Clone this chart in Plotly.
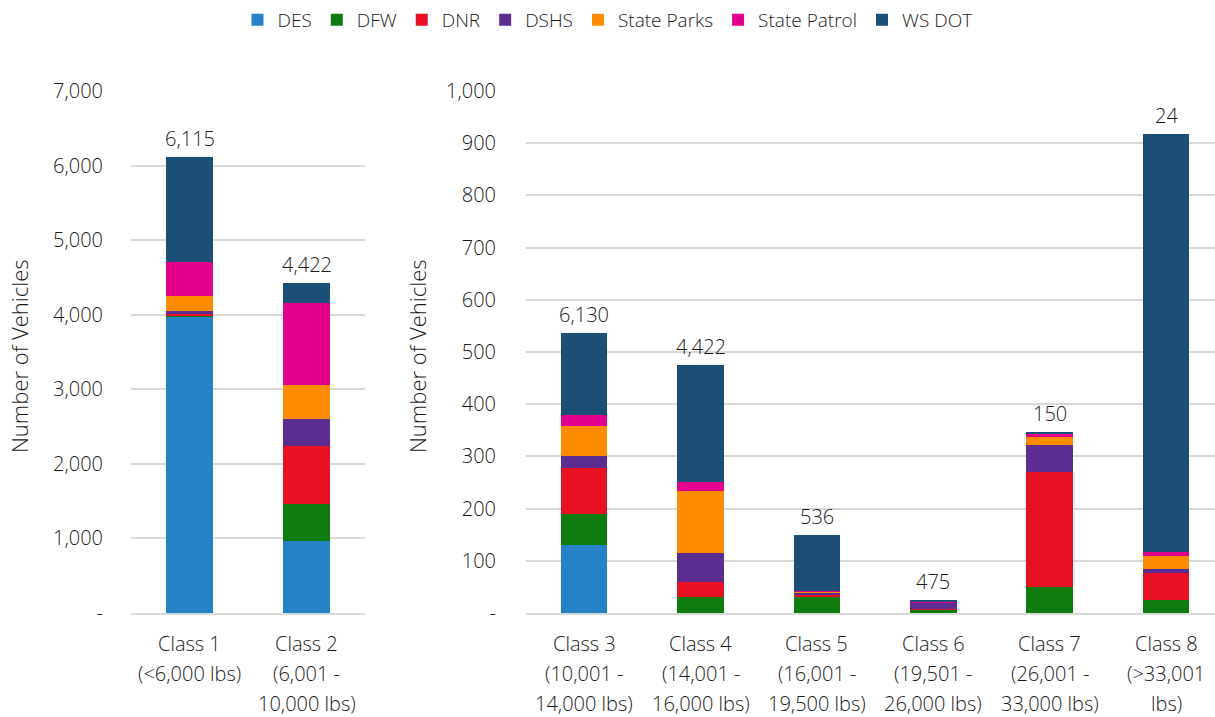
import plotly.graph_objects as go

# ---------------- data ----------------
agencies = ["DES", "DFW", "DNR", "DSHS", "State Parks", "State Patrol", "WS DOT"]
colors = ["#2783C7", "#107C10", "#E81123", "#5C2D91", "#FF8C00", "#E3008C", "#1B4F75"]

left_classes = ["Class 1", "Class 2"]
left_ticklabels = ["Class 1<br>(<6,000 lbs)", "Class 2<br>(6,001 -<br>10,000 lbs)"]
left_values = {
    "DES":          [3970, 965],
    "DFW":          [17, 492],
    "DNR":          [27, 782],
    "DSHS":         [40, 367],
    "State Parks":  [200, 451],
    "State Patrol": [450, 1096],
    "WS DOT":       [1411, 269],
}
left_labels = ["6,115", "4,422"]

right_classes = ["Class 3", "Class 4", "Class 5", "Class 6", "Class 7", "Class 8"]
right_ticklabels = [
    "Class 3<br>(10,001 -<br>14,000 lbs)",
    "Class 4<br>(14,001 -<br>16,000 lbs)",
    "Class 5<br>(16,001 -<br>19,500 lbs)",
    "Class 6<br>(19,501 -<br>26,000 lbs)",
    "Class 7<br>(26,001 -<br>33,000 lbs)",
    "Class 8<br>(>33,001<br>lbs)",
]
right_values = {
    "DES":          [131, 0, 0, 0, 0, 0],
    "DFW":          [58, 30, 32, 7, 49, 24],
    "DNR":          [89, 29, 2, 1, 222, 52],
    "DSHS":         [22, 55, 4, 12, 51, 8],
    "State Parks":  [59, 119, 4, 1, 17, 26],
    "State Patrol": [21, 18, 1, 1, 3, 6],
    "WS DOT":       [156, 224, 107, 2, 4, 802],
}
right_labels = ["6,130", "4,422", "536", "475", "150", "24"]

left_ticks = [0, 1000, 2000, 3000, 4000, 5000, 6000, 7000]
left_tick_text = ["-", "1,000", "2,000", "3,000", "4,000", "5,000", "6,000", "7,000"]
right_ticks = [0, 100, 200, 300, 400, 500, 600, 700, 800, 900, 1000]
right_tick_text = ["-", "100", "200", "300", "400", "500", "600", "700", "800", "900", "1,000"]

# ---------------- figure ----------------
FONT = "Open Sans"
TXT = "#1a1a1a"
W, H = 1215, 717
PLOT_TOP, PLOT_BOT = 91, 613


def fnt(size):
    return dict(family=FONT, size=size, color=TXT, weight=300)


fig = go.Figure()
for name, col in zip(agencies, colors):
    fig.add_trace(go.Bar(x=left_classes, y=left_values[name], name=name,
                         marker=dict(color=col, line=dict(width=0)),
                         xaxis="x", yaxis="y", legendgroup=name, showlegend=True))
    fig.add_trace(go.Bar(x=right_classes, y=right_values[name], name=name,
                         marker=dict(color=col, line=dict(width=0)),
                         xaxis="x2", yaxis="y2", legendgroup=name, showlegend=False))

annotations = []
# totals above bars
for i, c in enumerate(left_classes):
    tot = sum(left_values[a][i] for a in agencies)
    annotations.append(dict(x=c, y=tot, xref="x", yref="y", text=left_labels[i],
                            showarrow=False, yanchor="bottom", yshift=3, font=fnt(20)))
for i, c in enumerate(right_classes):
    tot = sum(right_values[a][i] for a in agencies)
    annotations.append(dict(x=c, y=tot, xref="x2", yref="y2", text=right_labels[i],
                            showarrow=False, yanchor="bottom", yshift=3, font=fnt(20)))


# category labels (multi-line, Excel-like spacing)
def add_cat_labels(cats, labels, xref):
    for c, lab in zip(cats, labels):
        for j, line in enumerate(lab.split("<br>")):
            ypx = PLOT_BOT + 30 + 30 * j
            annotations.append(dict(x=c, xref=xref, y=(H - ypx) / H, yref="paper",
                                    text=line, showarrow=False, yanchor="middle",
                                    font=fnt(20)))


add_cat_labels(left_classes, left_ticklabels, "x")
add_cat_labels(right_classes, right_ticklabels, "x2")

# axis titles
for xpx in (19, 417):
    annotations.append(dict(x=xpx / W, y=1 - 357 / H,
                            xref="paper", yref="paper",
                            text="Number of Vehicles", textangle=-90, showarrow=False,
                            xanchor="center", yanchor="middle", font=fnt(22)))

gridc = "#D9D9D9"
yd = [(H - PLOT_BOT) / H, (H - PLOT_TOP) / H]

fig.update_layout(
    width=W, height=H,
    margin=dict(l=0, r=0, t=0, b=0),
    paper_bgcolor="white", plot_bgcolor="white",
    barmode="stack", bargap=0.6,
    font=fnt(20),
    legend=dict(orientation="h", x=0.5, xanchor="center", y=1 - 1 / H, yanchor="top",
                font=fnt(19), traceorder="normal", itemwidth=30),
    xaxis=dict(domain=[131 / W, 365 / W], showticklabels=False, showgrid=False,
               showline=True, linecolor=gridc, linewidth=1.5, ticks="",
               range=[-0.5, 1.5]),
    yaxis=dict(domain=yd, range=[0, 7000], tickvals=left_ticks, ticktext=left_tick_text,
               showgrid=True, gridcolor=gridc, gridwidth=1.5, zeroline=False,
               showline=False, ticks="", ticklabelstandoff=27, automargin=False,
               tickfont=fnt(20)),
    xaxis2=dict(domain=[526 / W, 1.0], anchor="y2", showticklabels=False, showgrid=False,
                showline=True, linecolor=gridc, linewidth=1.5, ticks="",
                range=[-0.5, 5.42]),
    yaxis2=dict(domain=yd, anchor="x2", range=[0, 1000], tickvals=right_ticks,
                ticktext=right_tick_text, showgrid=True, gridcolor=gridc, gridwidth=1.5,
                zeroline=False, showline=False, ticks="", ticklabelstandoff=29,
                automargin=False, tickfont=fnt(20)),
    showlegend=True,
    annotations=annotations,
)

fig.write_html("out.html", config={"displayModeBar": False},
               post_script="document.body.style.margin='0';")
